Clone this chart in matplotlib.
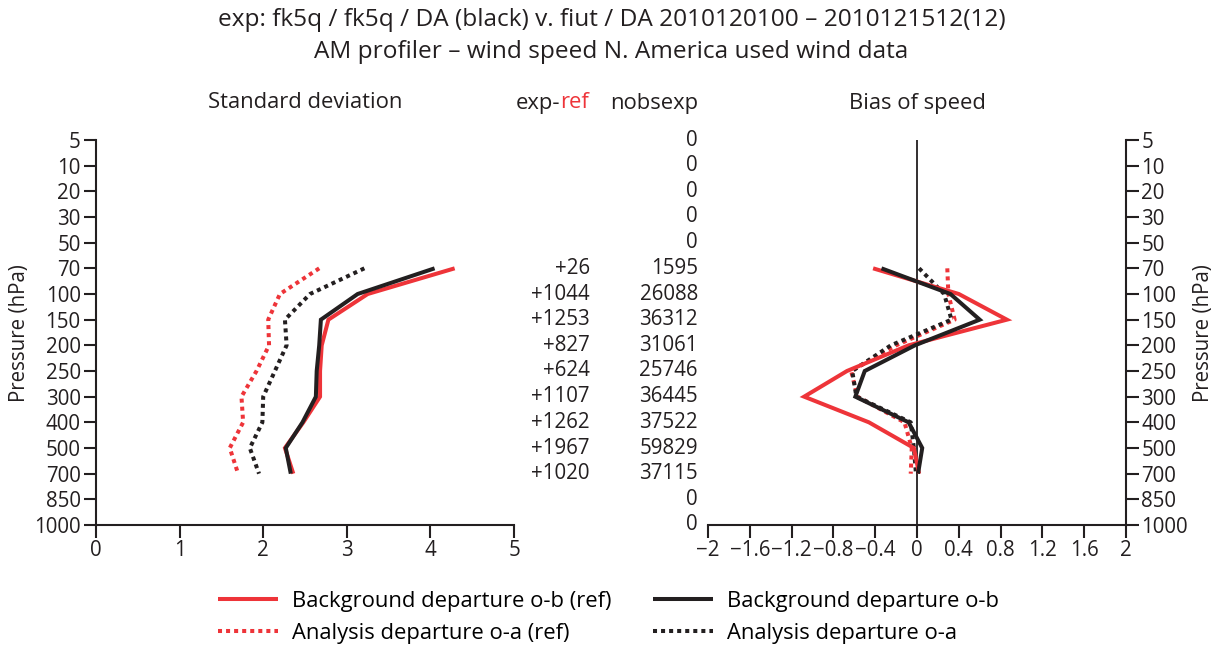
import matplotlib
matplotlib.use("Agg")
import matplotlib.pyplot as plt
from matplotlib.lines import Line2D
import matplotlib.transforms as mtransforms

plt.rcParams['font.family'] = ['Open Sans', 'DejaVu Sans']

# Pressure levels (categorical, top to bottom)
levels = ["5", "10", "20", "30", "50", "70", "100", "150", "200", "250",
          "300", "400", "500", "700", "850", "1000"]

# Levels that carry data
data_levels = ["70", "100", "150", "200", "250", "300", "400", "500", "700"]

# Standard deviation (m/s)
std_ob_ref = [4.29, 3.25, 2.78, 2.70, 2.68, 2.68, 2.48, 2.26, 2.36]
std_ob_exp = [4.05, 3.13, 2.69, 2.67, 2.64, 2.63, 2.47, 2.27, 2.33]
std_oa_ref = [2.67, 2.20, 2.06, 2.07, 1.92, 1.74, 1.76, 1.60, 1.70]
std_oa_exp = [3.21, 2.56, 2.26, 2.28, 2.14, 2.00, 1.99, 1.84, 1.95]

# Bias of speed (m/s)
bias_ob_ref = [-0.42, 0.40, 0.86, -0.08, -0.67, -1.08, -0.46, -0.03, 0.02]
bias_ob_exp = [-0.34, 0.32, 0.60, -0.02, -0.50, -0.59, -0.08, 0.05, 0.01]
bias_oa_ref = [0.29, 0.30, 0.36, -0.20, -0.63, -0.57, -0.12, -0.05, -0.06]
bias_oa_exp = [0.02, 0.26, 0.33, -0.25, -0.62, -0.58, -0.06, -0.03, -0.01]

# Observation counts per level
exp_minus_ref = ["", "", "", "", "", "+26", "+1044", "+1253", "+827", "+624",
                 "+1107", "+1262", "+1967", "+1020", "", ""]
nobs_exp = ["0", "0", "0", "0", "0", "1595", "26088", "36312", "31061", "25746",
            "36445", "37522", "59829", "37115", "0", "0"]

std_ticks = [0, 1, 2, 3, 4, 5]
bias_ticks = [-2, -1.6, -1.2, -0.8, -0.4, 0, 0.4, 0.8, 1.2, 1.6, 2]

RED = "#EE3439"
BLACK = "#231F20"
FS = 14.8

W, H = 1223, 648
fig = plt.figure(figsize=(W / 100, H / 100), dpi=100)

def frac(x0, y0, x1, y1):
    return [x0 / W, 1 - y1 / H, (x1 - x0) / W, (y1 - y0) / H]

ax1 = fig.add_axes(frac(96, 140, 514, 525))
ax2 = fig.add_axes(frac(708, 140, 1126, 525))

ypos = {lv: i for i, lv in enumerate(levels)}
yd = [ypos[lv] for lv in data_levels]

solid = dict(lw=2.9, solid_joinstyle="miter", solid_capstyle="butt")
dotted = dict(lw=2.9, linestyle=(0, (1, 1)), dash_capstyle="butt")

ax1.plot(std_oa_ref, yd, color=RED, **dotted)
ax1.plot(std_oa_exp, yd, color=BLACK, **dotted)
ax1.plot(std_ob_ref, yd, color=RED, **solid)
ax1.plot(std_ob_exp, yd, color=BLACK, **solid)

ax2.axvline(0, color=BLACK, lw=1.3)
ax2.plot(bias_oa_ref, yd, color=RED, **dotted)
ax2.plot(bias_oa_exp, yd, color=BLACK, **dotted)
ax2.plot(bias_ob_ref, yd, color=RED, **solid)
ax2.plot(bias_ob_exp, yd, color=BLACK, **solid)

for ax in (ax1, ax2):
    ax.set_ylim(len(levels) - 1, 0)
    ax.set_yticks(range(len(levels)))
    ax.set_yticklabels(levels)
    ax.tick_params(axis="both", labelsize=FS, length=9, width=1.5,
                   color=BLACK, labelcolor=BLACK, pad=2)
    ax.spines["top"].set_visible(False)
    for s in ax.spines.values():
        s.set_linewidth(1.5)
        s.set_color(BLACK)

ax1.set_xlim(0, 5)
ax1.set_xticks(std_ticks)
ax1.set_xticklabels([str(t) for t in std_ticks])
ax1.spines["right"].set_visible(False)

ax2.set_xlim(-2, 2)
ax2.set_xticks(bias_ticks)
ax2.set_xticklabels([f"{t:g}".replace("-", "\u2212") for t in bias_ticks])
ax2.spines["left"].set_visible(False)
ax2.yaxis.tick_right()

# Axis titles
fig.text(20 / W, 1 - 333 / H, "Pressure (hPa)", rotation=90, ha="center",
         va="center", fontsize=FS, color=BLACK)
fig.text(1203 / W, 1 - 333 / H, "Pressure (hPa)", rotation=90, ha="center",
         va="center", fontsize=FS, color=BLACK)

# Column headers
HY = 1 - 103 / H
fig.text(305 / W, HY, "Standard deviation", ha="center", va="center",
         fontsize=FS + 1, color=BLACK)
fig.text(917 / W, HY, "Bias of speed", ha="center", va="center",
         fontsize=FS + 1, color=BLACK)
probe = fig.text(0, 0, "exp-ref", fontsize=FS + 1)
fig.canvas.draw()
full_w = probe.get_window_extent().width
probe.remove()
t_exp = fig.text((589 - full_w) / W, HY, "exp-", ha="left", va="center",
                 fontsize=FS + 1, color=BLACK)
fig.canvas.draw()
bb = t_exp.get_window_extent()
fig.text(bb.x1 / W, HY, "ref", ha="left", va="center",
         fontsize=FS + 1, color=RED)
fig.text(698 / W, HY, "nobsexp", ha="right", va="center",
         fontsize=FS + 1, color=BLACK)

# Per-level counts
trans = mtransforms.blended_transform_factory(fig.transFigure, ax1.transData)
for i, (d, n) in enumerate(zip(exp_minus_ref, nobs_exp)):
    if d:
        fig.text(590 / W, i, d, transform=trans, ha="right", va="center",
                 fontsize=FS, color=BLACK)
    fig.text(698 / W, i, n, transform=trans, ha="right", va="center",
             fontsize=FS, color=BLACK)

# Title
fig.text(0.5, 1 - 20 / H,
         "exp: fk5q / fk5q / DA (black) v. fiut / DA 2010120100 \u2013 2010121512(12)",
         ha="center", va="center", fontsize=17.6, color=BLACK)
fig.text(0.5, 1 - 52 / H,
         "AM profiler \u2013 wind speed N. America used wind data",
         ha="center", va="center", fontsize=17.6, color=BLACK)

handles = [
    Line2D([], [], color=RED, **solid),
    Line2D([], [], color=RED, **dotted),
    Line2D([], [], color=BLACK, **solid),
    Line2D([], [], color=BLACK, **dotted),
]
labels = ["Background departure o-b (ref)", "Analysis departure o-a (ref)",
          "Background departure o-b", "Analysis departure o-a"]
fig.legend(handles, labels, ncol=2, loc="upper left",
           bbox_to_anchor=(218 / W, 1 - 591 / H), frameon=False,
           fontsize=15.8, handlelength=2.75, columnspacing=1.9,
           handletextpad=0.62, labelspacing=0.5, borderpad=0, borderaxespad=0)

fig.savefig("out.png", dpi=100)
